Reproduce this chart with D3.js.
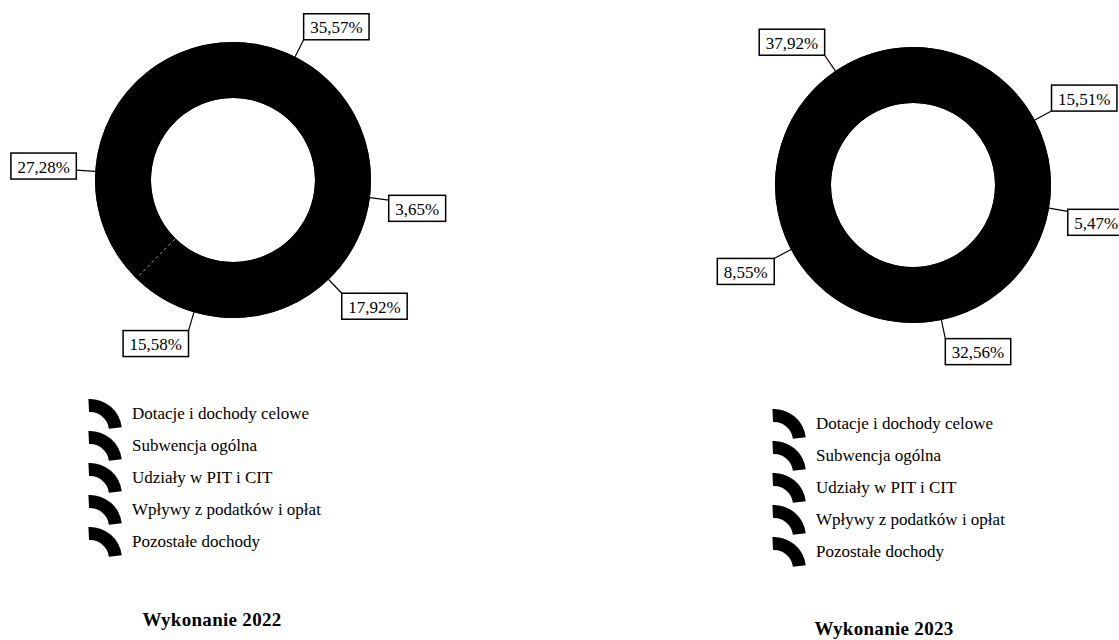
<!DOCTYPE html>
<html>
<head>
<meta charset="utf-8">
<script src="https://cdn.jsdelivr.net/npm/d3@7"></script>
<style>
  body { margin: 0; background: #fff; }
  text { font-family: "Liberation Serif", "DejaVu Serif", serif; fill: #000; }
</style>
</head>
<body>
<div id="chart"></div>
<script>
// ---------- data ----------
const categories = [
    "Dotacje i dochody celowe",
    "Subwencja ogólna",
    "Udziały w PIT i CIT",
    "Wpływy z podatków i opłat",
    "Pozostałe dochody"
];
const values2022 = [27.28, 35.57, 3.65, 17.92, 15.58];
const values2023 = [15.51, 5.47, 32.56, 8.55, 37.92];
const titles = ["Wykonanie 2022", "Wykonanie 2023"];

// ---------- layout ----------
const width = 1119, height = 640;
const outerR = 138, innerR = 82;

const charts = [
    { values: values2022, title: titles[0], cx: 233, cy: 180, start: 224.5,
      legendX: 88, legendY: 413, titleX: 212, titleY: 626, seam: true },
    { values: values2023, title: titles[1], cx: 913, cy: 185, start: 34,
      legendX: 772, legendY: 423, titleX: 884, titleY: 635, seam: false }
];

const svg = d3.select("#chart").append("svg")
    .attr("width", width)
    .attr("height", height)
    .style("background", "white");

const fmt = v => d3.format(".2f")(v).replace(".", ",") + "%";
const rad = deg => deg * Math.PI / 180;

charts.forEach(c => {
    const g = svg.append("g").attr("transform", `translate(${c.cx},${c.cy})`);

    const pie = d3.pie().sort(null)
        .startAngle(rad(c.start))
        .endAngle(rad(c.start) + 2 * Math.PI);
    const arcs = pie(c.values);
    const arc = d3.arc().innerRadius(innerR).outerRadius(outerR);

    // full black ring underneath so slice edges don't show gaps
    g.append("path")
        .attr("d", arc({ startAngle: 0, endAngle: 2 * Math.PI }))
        .attr("fill", "#000");

    g.selectAll("path.slice")
        .data(arcs)
        .join("path")
        .attr("class", "slice")
        .attr("d", arc)
        .attr("fill", "#000");

    // faint scan seam between first and last slice
    if (c.seam) {
        const a = arcs[0].startAngle;
        g.append("line")
            .attr("x1", Math.sin(a) * (innerR + 1)).attr("y1", -Math.cos(a) * (innerR + 1))
            .attr("x2", Math.sin(a) * (outerR - 1)).attr("y2", -Math.cos(a) * (outerR - 1))
            .attr("stroke", "#ccc")
            .attr("stroke-width", 0.8)
            .attr("stroke-dasharray", "3,3");
    }

    // labels with leader lines
    const labelR = 157, boxH = 26, pad = 6.5;
    arcs.forEach(d => {
        const mid = (d.startAngle + d.endAngle) / 2;
        const s = Math.sin(mid), co = Math.cos(mid);
        const x0 = s * outerR, y0 = -co * outerR;
        const x1 = s * labelR, y1 = -co * labelR;

        g.append("line")
            .attr("x1", x0).attr("y1", y0)
            .attr("x2", x1).attr("y2", y1)
            .attr("stroke", "#000")
            .attr("stroke-width", 1.2);

        const lg = g.append("g");
        const t = lg.append("text")
            .attr("font-size", 17)
            .attr("dominant-baseline", "central")
            .text(fmt(d.data));
        const tw = t.node().getComputedTextLength();
        const bw = tw + pad * 2;
        const bx = s >= 0 ? x1 : x1 - bw;
        const f = Math.max(0, Math.min(1, 0.5 + 2.5 * co));
        const by = y1 - f * boxH;

        lg.insert("rect", "text")
            .attr("x", bx).attr("y", by)
            .attr("width", bw).attr("height", boxH)
            .attr("fill", "#fff")
            .attr("stroke", "#000")
            .attr("stroke-width", 1.5);
        t.attr("x", bx + pad).attr("y", by + boxH / 2 + 1);
    });

    // legend
    const iconArc = d3.arc().innerRadius(19).outerRadius(32)
        .startAngle(-0.05).endAngle(1.45);
    const rowH = 32;
    const lg = svg.append("g");
    categories.forEach((name, i) => {
        const yc = c.legendY + i * rowH;
        lg.append("path")
            .attr("d", iconArc())
            .attr("transform", `translate(${c.legendX + 2},${yc + 18})`)
            .attr("fill", "#000");
        lg.append("text")
            .attr("x", c.legendX + 44)
            .attr("y", yc + 6)
            .attr("font-size", 17)
            .text(name);
    });

    // title
    svg.append("text")
        .attr("x", c.titleX)
        .attr("y", c.titleY)
        .attr("text-anchor", "middle")
        .attr("font-size", 19)
        .attr("font-weight", "bold")
        .attr("letter-spacing", 0.3)
        .text(c.title);
});
</script>
</body>
</html>
